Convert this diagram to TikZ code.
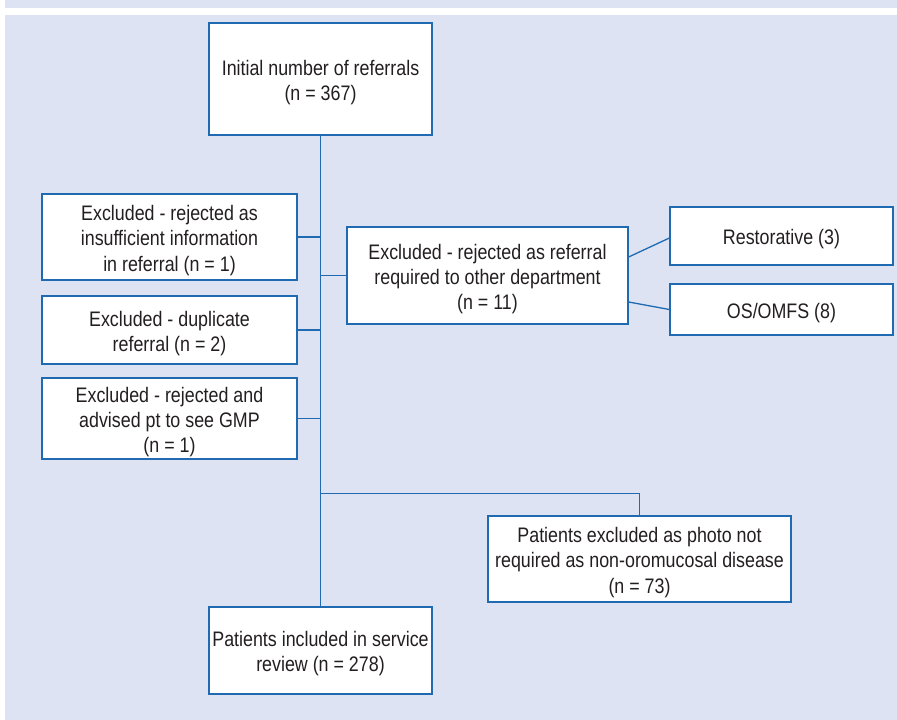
\documentclass[tikz,border=0pt]{standalone}
\usepackage{fontspec}
\setmainfont{Liberation Sans}[FakeStretch=0.85]
\usetikzlibrary{calc}
\definecolor{bgc}{RGB}{221,227,243}
\definecolor{linec}{RGB}{31,106,176}
\definecolor{txtc}{RGB}{35,31,32}
\newcommand{\tstr}{\rule{0pt}{22pt}}
\tikzset{
  fbox/.style={draw=linec, line width=1.3pt, fill=white, inner sep=0pt, align=center,
    text=txtc, font=\fontsize{21}{25.3}\selectfont},
  conn/.style={draw=linec, line width=1.3pt}
}
\begin{document}
\begin{tikzpicture}[x=1pt,y=-1pt]
\useasboundingbox (0,0) rectangle (897,720);
\fill[bgc] (5,0) rectangle (897,8);
\fill[bgc] (5,15) rectangle (897,720);

\node[fbox, minimum width=223pt, minimum height=112pt] (top) at (320.5,79) {\tstr Initial number of referrals\\(n = 367)};
\node[fbox, minimum width=255pt, minimum height=86pt] (ex1) at (169.5,237) {\tstr Excluded - rejected as\\insufficient information\\in referral (n = 1)};
\node[fbox, minimum width=255pt, minimum height=68pt] (ex2) at (169.5,330) {\tstr Excluded - duplicate\\referral (n = 2)};
\node[fbox, minimum width=255pt, minimum height=81pt] (ex3) at (169.5,418.5) {\tstr Excluded - rejected and\\advised pt to see GMP\\(n = 1)};
\node[fbox, minimum width=281pt, minimum height=97pt] (mid) at (487.5,275.5) {\tstr Excluded - rejected as referral\\required to other department\\(n = 11)};
\node[fbox, minimum width=223pt, minimum height=58pt] (rest) at (781.5,236) {\tstr Restorative (3)};
\node[fbox, minimum width=223pt, minimum height=51pt] (os) at (781.5,309.5) {\tstr OS/OMFS (8)};
\node[fbox, minimum width=303pt, minimum height=86pt] (photo) at (639.5,559) {\tstr Patients excluded as photo not\\required as non-oromucosal disease\\(n = 73)};
\node[fbox, minimum width=223pt, minimum height=87pt] (final) at (320.5,650.5) {\tstr Patients included in service\\review (n = 278)};

\coordinate (j1) at (top.south |- ex1.east);
\coordinate (j2) at (top.south |- ex2.east);
\coordinate (j3) at (top.south |- ex3.east);
\coordinate (jm) at (top.south |- mid.west);
\coordinate (jp) at ($(top.south)+(0,358)$);

\draw[conn] (top.south) -- (final.north);
\draw[conn] (ex1.east) -- (j1);
\draw[conn] (ex2.east) -- (j2);
\draw[conn] (ex3.east) -- (j3);
\draw[conn] (jm) -- (mid.west);
\draw[conn] ($(mid.east)+(0,-18.5)$) -- ($(rest.west)+(0,2)$);
\draw[conn] ($(mid.east)+(0,26.5)$) -- (os.west);
\draw[conn] (jp) -| (photo.north);
\end{tikzpicture}
\end{document}
